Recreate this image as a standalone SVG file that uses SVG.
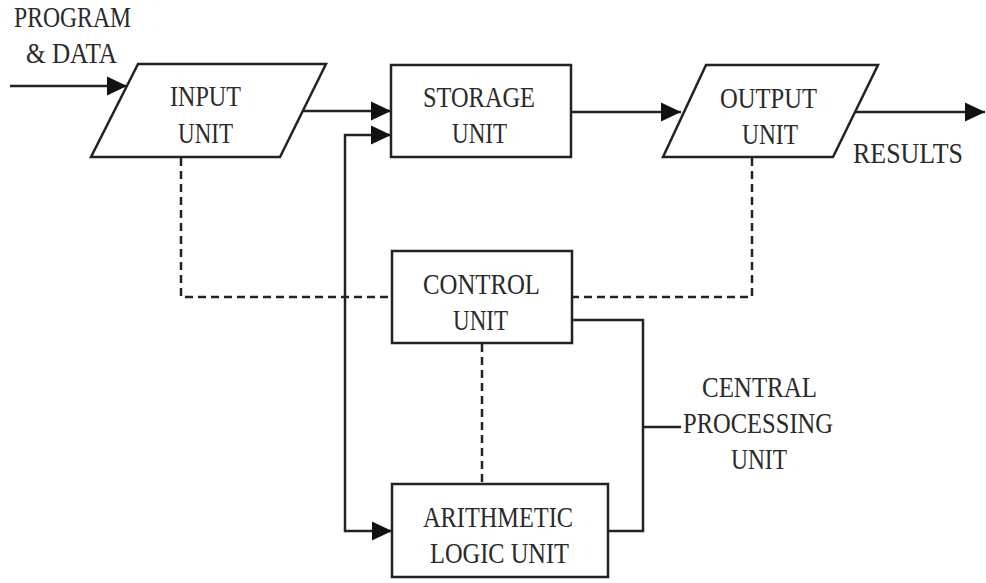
<svg xmlns="http://www.w3.org/2000/svg" width="986" height="583" viewBox="0 0 986 583">
<defs>
<style>
.shape{fill:#fff;stroke:#222;stroke-width:2.5}
.line{fill:none;stroke:#222;stroke-width:2.5}
.dash{fill:none;stroke:#222;stroke-width:2.5;stroke-dasharray:8 5}
text{font-family:"Liberation Serif","Times New Roman",serif;font-size:29px;fill:#2a2a2a;text-anchor:middle}
</style>
<marker id="arr" markerUnits="userSpaceOnUse" markerWidth="20" markerHeight="20" viewBox="0 0 18 18" refX="18" refY="9" orient="auto">
<path d="M0,0.5 L18,9 L0,17.5 Z" fill="#111"/>
</marker>
</defs>
<rect width="986" height="583" fill="#fff"/>
<g id="connectors">
<line class="line" x1="10" y1="86" x2="127" y2="86" marker-end="url(#arr)"/>
<line class="line" x1="303" y1="111" x2="391" y2="111" marker-end="url(#arr)"/>
<path class="line" d="M345,333 V135 H391" marker-end="url(#arr)"/>
<path class="line" d="M345,333 V531 H392" marker-end="url(#arr)"/>
<line class="line" x1="571" y1="112" x2="681" y2="112" marker-end="url(#arr)"/>
<line class="line" x1="855" y1="112" x2="985" y2="112" marker-end="url(#arr)"/>
<path class="dash" d="M181,158 V297 H392"/>
<path class="dash" d="M752,158 V297 H572"/>
<path class="dash" d="M482,344 V484"/>
<path class="line" d="M572,320 H643 V531 H608"/>
<path class="line" d="M643,427 H681"/>
</g>
<g id="program-data">
<text x="72.5" y="27" textLength="117" lengthAdjust="spacingAndGlyphs">PROGRAM</text>
<text x="71.5" y="63" textLength="91" lengthAdjust="spacingAndGlyphs">&amp; DATA</text>
</g>
<g id="input-unit">
<polygon class="shape" points="138,64 326,64 280,157 91,157"/>
<text x="205.5" y="106" textLength="71" lengthAdjust="spacingAndGlyphs">INPUT</text>
<text x="205.5" y="143" textLength="55" lengthAdjust="spacingAndGlyphs">UNIT</text>
</g>
<g id="storage-unit">
<rect class="shape" x="391" y="65" width="180" height="92"/>
<text x="479" y="107" textLength="112" lengthAdjust="spacingAndGlyphs">STORAGE</text>
<text x="479.5" y="143" textLength="55" lengthAdjust="spacingAndGlyphs">UNIT</text>
</g>
<g id="output-unit">
<polygon class="shape" points="706,65 878,65 833,157 663,157"/>
<text x="768.5" y="108" textLength="97" lengthAdjust="spacingAndGlyphs">OUTPUT</text>
<text x="770" y="144" textLength="56" lengthAdjust="spacingAndGlyphs">UNIT</text>
</g>
<g id="results">
<text x="908" y="163" textLength="110" lengthAdjust="spacingAndGlyphs">RESULTS</text>
</g>
<g id="control-unit">
<rect class="shape" x="392" y="251" width="180" height="92"/>
<text x="481.5" y="294" textLength="117" lengthAdjust="spacingAndGlyphs">CONTROL</text>
<text x="480.5" y="330" textLength="55" lengthAdjust="spacingAndGlyphs">UNIT</text>
</g>
<g id="alu">
<rect class="shape" x="392" y="484" width="216" height="93"/>
<text x="498" y="527" textLength="150" lengthAdjust="spacingAndGlyphs">ARITHMETIC</text>
<text x="499.5" y="563" textLength="139" lengthAdjust="spacingAndGlyphs">LOGIC UNIT</text>
</g>
<g id="cpu-label">
<text x="759.5" y="397" textLength="115" lengthAdjust="spacingAndGlyphs">CENTRAL</text>
<text x="758" y="433" textLength="150" lengthAdjust="spacingAndGlyphs">PROCESSING</text>
<text x="759" y="469" textLength="56" lengthAdjust="spacingAndGlyphs">UNIT</text>
</g>
</svg>
